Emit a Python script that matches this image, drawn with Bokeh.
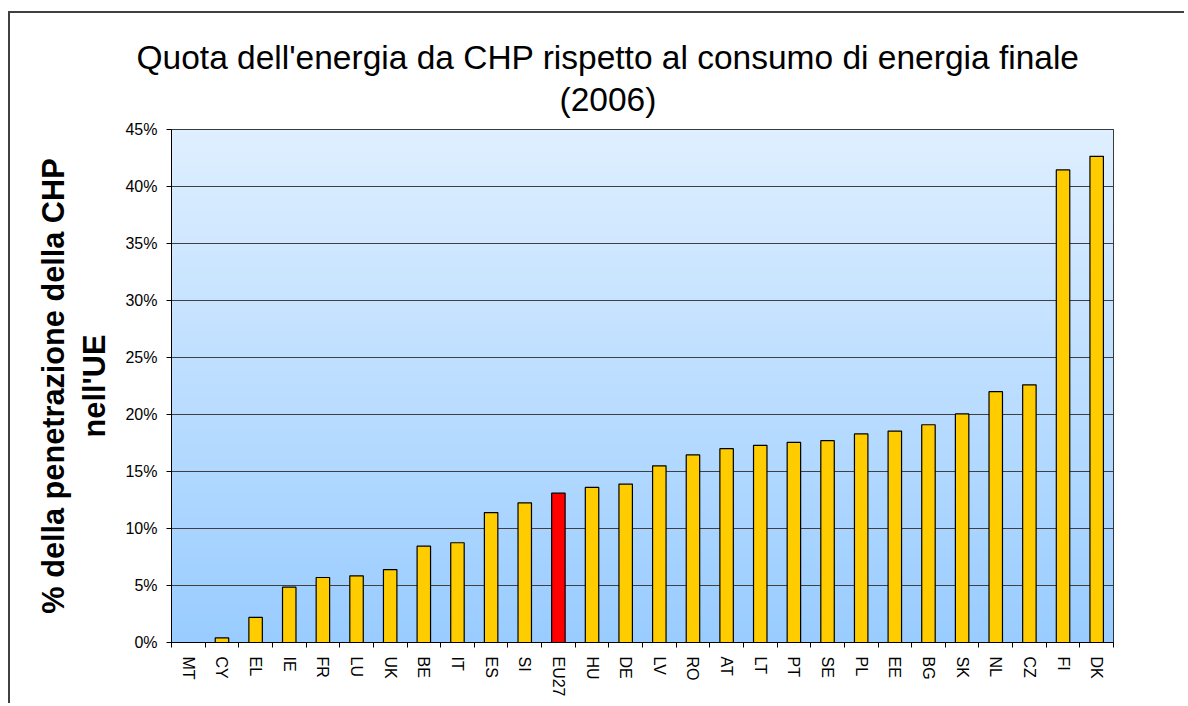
import numpy as np
from bokeh.plotting import figure
from bokeh.models import FixedTicker, PrintfTickFormatter, Title, Range1d, ColumnDataSource
from bokeh.embed import file_html
from bokeh.resources import INLINE

# ---- data ----
countries = ["MT", "CY", "EL", "IE", "FR", "LU", "UK", "BE", "IT", "ES", "SI", "EU27", "HU", "DE",
             "LV", "RO", "AT", "LT", "PT", "SE", "PL", "EE", "BG", "SK", "NL", "CZ", "FI", "DK"]
shares = [0.0, 0.4, 2.2, 4.85, 5.7, 5.85, 6.4, 8.45, 8.75, 11.4, 12.25, 13.1, 13.6, 13.9,
          15.5, 16.45, 17.0, 17.3, 17.55, 17.7, 18.3, 18.55, 19.1, 20.05, 22.0, 22.6, 41.45, 42.65]
y_ticks = [0, 5, 10, 15, 20, 25, 30, 35, 40, 45]
title_lines = ["Quota dell'energia da CHP rispetto al consumo di energia finale", "(2006)"]
ylabel_lines = ["% della penetrazione della CHP", "nell'UE"]
highlight = "EU27"

FONT = "Liberation Sans"
xs = list(range(len(countries)))
colors = ["#FF0000" if c == highlight else "#FFCC00" for c in countries]
src = ColumnDataSource(dict(x=xs, top=shares, color=colors, name=countries))

p = figure(width=1176, height=692, output_backend="svg", toolbar_location=None,
           x_range=Range1d(-0.5, len(countries) - 0.5), y_range=Range1d(0, 45),
           min_border_left=161, min_border_right=73, min_border_top=116, min_border_bottom=63,
           title=None)
p.styles = {"margin-left": "8px", "margin-top": "11px",
            "border-left": "2px solid #404040", "border-top": "2px solid #404040"}

# background gradient (decoration)
n = 512
t = np.linspace(0, 1, n)
bot = np.array([0x99, 0xCC, 0xFF], dtype=float)
topc = np.array([0xDF, 0xEF, 0xFF], dtype=float)
img = np.empty((n, 1), dtype=np.uint32)
view = img.view(dtype=np.uint8).reshape((n, 1, 4))
for k in range(3):
    view[:, 0, k] = np.round(bot[k] + (topc[k] - bot[k]) * t).astype(np.uint8)
view[:, 0, 3] = 255
p.image_rgba(image=[img], x=-0.5, y=0, dw=len(countries), dh=45, level="image")

p.vbar(x="x", top="top", bottom=0, width=0.4, fill_color="color", line_color="black",
       line_width=1.2, source=src)

p.outline_line_color = "black"
p.outline_line_width = 1
p.xgrid.grid_line_color = None
p.ygrid.grid_line_color = "#404040"
p.ygrid.grid_line_width = 1
p.ygrid.ticker = FixedTicker(ticks=y_ticks)

# y axis
p.yaxis.ticker = FixedTicker(ticks=y_ticks)
p.yaxis.formatter = PrintfTickFormatter(format="%d%%")
p.yaxis.major_tick_out = 5
p.yaxis.major_tick_in = 0
p.yaxis.minor_tick_line_color = None
p.yaxis.major_label_standoff = 9

# x axis: labels at centers, ticks at boundaries
p.xaxis.ticker = FixedTicker(ticks=xs, minor_ticks=[i - 0.5 for i in range(len(countries) + 1)])
p.xaxis.major_label_overrides = {i: c for i, c in zip(xs, countries)}
p.xaxis.major_tick_out = 0
p.xaxis.major_tick_in = 0
p.xaxis.minor_tick_out = 5
p.xaxis.minor_tick_in = 0
p.xaxis.minor_tick_line_color = "black"
p.xaxis.major_label_orientation = "vertical"
p.xaxis.major_label_standoff = 9

for ax in (p.xaxis, p.yaxis):
    ax.axis_line_color = "black"
    ax.major_tick_line_color = "black"
    ax.major_label_text_font = FONT
    ax.major_label_text_font_size = "16px"
    ax.major_label_text_color = "black"

# titles (first added = innermost)
p.add_layout(Title(text=title_lines[1], align="left", offset=388, standoff=24, text_font=FONT,
                   text_font_size="33.5px", text_font_style="normal", text_color="black"), "above")
p.add_layout(Title(text=title_lines[0], align="left", offset=-35, standoff=-18, text_font=FONT,
                   text_font_size="33.5px", text_font_style="normal", text_color="black"), "above")
p.add_layout(Title(text=ylabel_lines[1], align="center", standoff=22, text_font=FONT,
                   text_font_size="30.7px", text_font_style="bold", text_color="black"), "left")
p.add_layout(Title(text=ylabel_lines[0], align="center", standoff=-14, text_font=FONT,
                   text_font_size="30.7px", text_font_style="bold", text_color="black"), "left")

p.background_fill_color = None
p.border_fill_color = "white"

open("out.html", "w").write(file_html(p, INLINE))
